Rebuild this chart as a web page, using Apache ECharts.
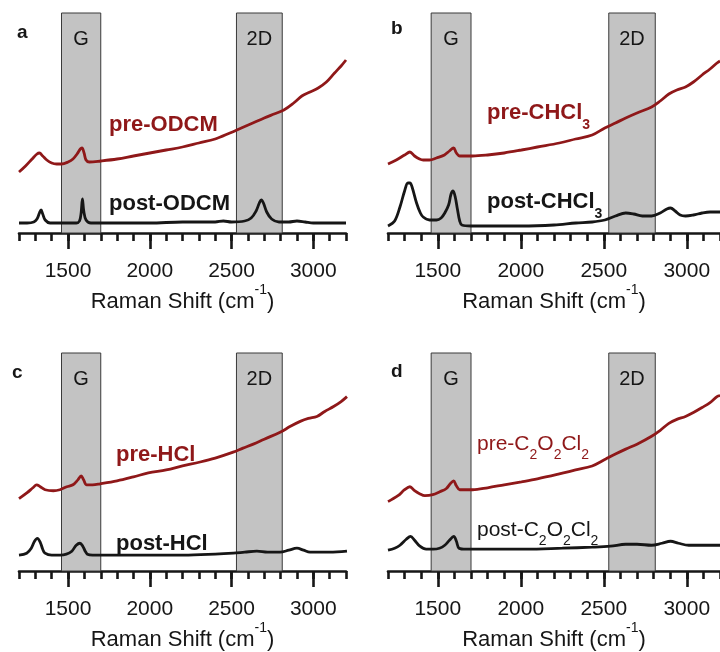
<!DOCTYPE html>
<html><head><meta charset="utf-8">
<script src="https://cdn.jsdelivr.net/npm/echarts@6/dist/echarts.min.js"></script>
<style>html,body{margin:0;padding:0;background:#fff}#c{width:720px;height:652px}</style>
</head><body><div id="c"></div><script>
// ---- data ----
const majorTicks = [1500, 2000, 2500, 3000];
const bandG = [1460, 1700];
const band2D = [2530, 2810];
const bandNames = ['G', '2D'];
const panelLetters = ['a', 'b', 'c', 'd'];

const preA_x = [1200,1240,1280,1310,1325,1345,1370,1400,1430,1460,1500,1530,1555,1575,1585,1598,1610,1630,1700,1800,1900,2000,2100,2200,2300,2400,2490,2560,2630,2700,2760,2820,2880,2930,2980,3030,3080,3130,3170,3200];
const preA_y = [61,67,74,79,80,77,73,70,69,69,71,74,79,84,85,80,73,71,72,74,77,80,83,86,90,94,100,105,110,115,119,123,130,137,141,145,151,160,167,173];
const postA_x = [1200,1250,1290,1310,1325,1335,1345,1360,1390,1500,1550,1570,1580,1588,1596,1610,1640,1800,2000,2200,2400,2450,2500,2580,2620,2650,2670,2682,2695,2715,2745,2790,2850,2900,2950,3000,3100,3200];
const postA_y = [10,10,11,14,20,23,19,13,10,10,10,12,20,34,22,13,10,10,10,11,11,12,11,12,15,22,30,33,30,21,14,11,11,12,11,10,10,10];

const preB_x = [1200,1250,1300,1332,1360,1390,1412,1450,1492,1540,1570,1595,1612,1632,1710,1800,1900,2004,2100,2232,2330,2430,2506,2570,2632,2700,2788,2840,2892,2940,2992,3040,3092,3140,3182,3200];
const preB_y = [69,73,78,81,77,74,73,73,75,78,82,85,80,77,77,78,80,83,86,90,94,98,105,110,115,120,126,132,139,143,146,151,158,164,170,172];
const postB_x = [1200,1240,1272,1300,1320,1332,1345,1372,1395,1412,1450,1492,1520,1542,1565,1580,1592,1605,1618,1632,1645,1700,1800,2004,2200,2332,2430,2506,2570,2632,2680,2732,2788,2840,2880,2902,2930,2960,2992,3040,3092,3140,3200];
const postB_y = [7,12,26,42,50,50,46,30,20,16,13,13,15,20,28,39,42,36,24,12,8,7,7,7,8,10,11,13,17,20,19,17,17,20,24,25,22,18,17,18,20,21,21];

const preC_x = [1200,1250,1285,1308,1330,1360,1410,1450,1492,1530,1560,1580,1595,1614,1650,1696,1800,1900,1991,2100,2200,2308,2400,2510,2570,2633,2700,2797,2860,2920,2970,3022,3070,3124,3170,3206];
const preC_y = [73,79,84,87,85,82,81,82,85,87,92,96,92,87,87,88,91,95,99,102,106,110,114,120,124,128,133,140,146,151,154,156,161,166,171,176];
const postC_x = [1200,1247,1275,1295,1312,1330,1345,1359,1400,1451,1490,1523,1550,1573,1590,1605,1618,1650,1800,2000,2206,2400,2510,2580,2655,2720,2797,2850,2900,2940,2980,3022,3100,3206];
const postC_y = [16,18,23,30,33,29,22,18,16,16,17,20,26,28,25,20,17,16,16,16,16,17,18,19,20,19,19,21,23,21,19,19,19,20];

const preD_x = [1200,1260,1300,1332,1360,1390,1422,1470,1512,1550,1575,1595,1612,1632,1710,1800,1900,2004,2100,2232,2330,2430,2512,2570,2632,2700,2788,2840,2892,2940,2992,3040,3092,3140,3182,3200];
const preD_y = [70,76,82,85,81,78,76,77,80,83,88,91,86,82,82,84,87,90,93,98,102,106,113,118,123,128,136,142,149,153,156,160,165,170,176,177];
const postD_x = [1200,1240,1272,1310,1336,1360,1392,1430,1472,1510,1542,1570,1596,1612,1628,1670,1800,2030,2250,2430,2540,2632,2700,2788,2850,2902,2950,3012,3100,3200];
const postD_y = [21,23,26,32,35,31,25,22,22,23,26,31,35,30,23,22,22,22,23,24,25,27,27,26,28,30,28,26,26,26];

const preLabels = ['{m|pre-ODCM}', '{m|pre-CHCl}{s|3}', '{m|pre-HCl}', '{m|pre-C}{s|2}{m|O}{s|2}{m|Cl}{s|2}'];
const postLabels = ['{m|post-ODCM}', '{m|post-CHCl}{s|3}', '{m|post-HCl}', '{m|post-C}{s|2}{m|O}{s|2}{m|Cl}{s|2}'];

// ---- layout / style ----
const RED = '#8f1819';
const INK = '#161616';
const FONT = '"Liberation Sans", Arial, sans-serif';
const grids = [
  {left: 19, top: 13, width: 327, height: 220},
  {left: 388, top: 13, width: 333, height: 220},
  {left: 19, top: 353, width: 327, height: 220},
  {left: 388, top: 353, width: 333, height: 220}
];
const zip = (xs, ys) => xs.map((x, i) => [x, ys[i]]);
const preSets = [[preA_x, preA_y], [preB_x, preB_y], [preC_x, preC_y], [preD_x, preD_y]];
const postSets = [[postA_x, postA_y], [postB_x, postB_y], [postC_x, postC_y], [postD_x, postD_y]];

const xAxes = [], yAxes = [], series = [];
grids.forEach((g, i) => {
  xAxes.push({
    type: 'value', gridIndex: i, min: 1200, max: 3200, position: 'bottom', offset: 0,
    axisLine: {show: true, lineStyle: {color: INK, width: 2.6}},
    axisTick: {show: true, customValues: majorTicks, length: 16, lineStyle: {color: INK, width: 2.6}},
    axisLabel: {customValues: majorTicks, fontSize: 21, margin: 28, color: INK, fontFamily: FONT,
      formatter: v => String(v)},
    splitLine: {show: false},
    name: '{n|Raman Shift (cm}{p|-1}{n|)}', nameLocation: 'middle', nameGap: 50,
    nameTextStyle: {fontFamily: FONT, fontSize: 22, color: INK,
      rich: {n: {fontSize: 22, fontFamily: FONT, color: INK, verticalAlign: 'bottom', padding: [8, 0, 0, 0]},
             p: {fontSize: 14, fontFamily: FONT, color: INK, verticalAlign: 'top'}}}
  });
  xAxes.push({
    type: 'value', gridIndex: i, min: 1200, max: 3200, interval: 100, position: 'bottom', offset: 0,
    axisLine: {show: false},
    axisTick: {show: true, length: 8, lineStyle: {color: INK, width: 2.6}},
    axisLabel: {show: false}, splitLine: {show: false}
  });
  yAxes.push({type: 'value', gridIndex: i, min: 0, max: 220, show: false});
  series.push({
    type: 'line', xAxisIndex: 2 * i, yAxisIndex: i, data: [], z: 1, silent: true,
    markArea: {
      silent: true,
      itemStyle: {color: '#c3c3c3', borderColor: '#3a3a3a', borderWidth: 1},
      label: {show: true, position: 'insideTop', distance: 17, fontSize: 20, color: INK, fontFamily: FONT},
      data: [[{xAxis: bandG[0], name: bandNames[0]}, {xAxis: bandG[1]}],
             [{xAxis: band2D[0], name: bandNames[1]}, {xAxis: band2D[1]}]]
    }
  });
  series.push({
    type: 'line', xAxisIndex: 2 * i, yAxisIndex: i, data: zip(preSets[i][0], preSets[i][1]),
    showSymbol: false, smooth: 0.35, z: 3, lineStyle: {color: RED, width: 2.8}, silent: true
  });
  series.push({
    type: 'line', xAxisIndex: 2 * i, yAxisIndex: i, data: zip(postSets[i][0], postSets[i][1]),
    showSymbol: false, smooth: 0.35, z: 3, lineStyle: {color: INK, width: 2.8}, silent: true
  });
});

function label(text, x, y, color, bold) {
  const w = bold ? 'bold' : 'normal';
  const fs = bold ? 22 : 21;
  return {
    type: 'text', x: x, y: y, z: 10, silent: true,
    style: {
      text: text, fill: color, fontSize: fs, fontWeight: w, fontFamily: FONT,
      verticalAlign: 'middle', align: 'left',
      rich: {
        m: {fontSize: fs, fontWeight: w, fontFamily: FONT, fill: color, color: color, verticalAlign: 'top', padding: [0, 0, 8, 0]},
        s: {fontSize: 14, fontWeight: w, fontFamily: FONT, fill: color, color: color, verticalAlign: 'bottom'}
      }
    }
  };
}
const letterPos = [[17, 33], [391, 29], [12, 373], [391, 372]];
const prePos = [[109, 129], [487, 117], [116, 459], [477, 448]];
const postPos = [[109, 208], [487, 206], [116, 548], [477, 534]];
const boldLabels = [true, true, true, false];
const graphics = [];
panelLetters.forEach((l, i) => {
  graphics.push({type: 'text', x: letterPos[i][0], y: letterPos[i][1], z: 10, silent: true,
    style: {text: l, fontSize: 19, fontWeight: 'bold', fontFamily: FONT, fill: INK, verticalAlign: 'middle'}});
  graphics.push(label(preLabels[i], prePos[i][0], prePos[i][1], RED, boldLabels[i]));
  graphics.push(label(postLabels[i], postPos[i][0], postPos[i][1], INK, boldLabels[i]));
});

const chart = echarts.init(document.getElementById('c'), null, {renderer: 'canvas'});
chart.setOption({
  animation: false,
  grid: grids,
  xAxis: xAxes,
  yAxis: yAxes,
  series: series,
  graphic: graphics
});
</script></body></html>
